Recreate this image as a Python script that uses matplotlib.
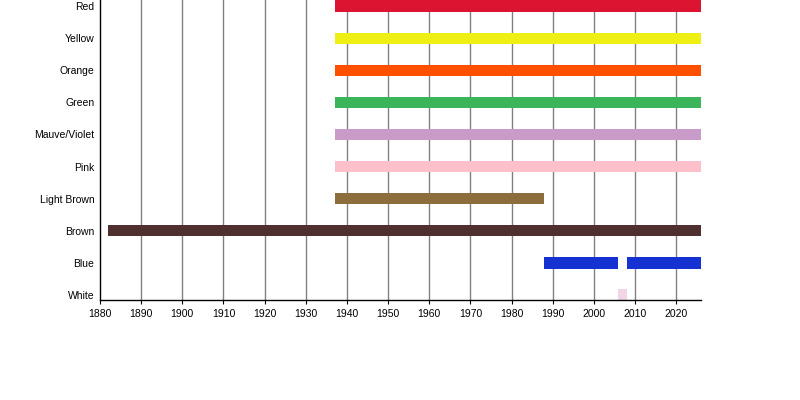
import matplotlib.pyplot as plt

lines = ["White", "Blue", "Brown", "Light Brown", "Pink", "Mauve/Violet",
         "Green", "Orange", "Yellow", "Red"]
colors = ["#f2d6e8", "#1432d2", "#50302e", "#8c6e3c", "#ffc0cb", "#c89bc8",
          "#3cb45a", "#ff5000", "#eef014", "#dc1432"]
# (start year, end year) segments for each line
spans = [
    [(2006, 2008)],
    [(1988, 2006), (2008, 2026)],
    [(1882, 2026)],
    [(1937, 1988)],
    [(1937, 2026)],
    [(1937, 2026)],
    [(1937, 2026)],
    [(1937, 2026)],
    [(1937, 2026)],
    [(1937, 2026)],
]
decades = list(range(1880, 2030, 10))

plt.rcParams['font.family'] = ['Liberation Sans', 'DejaVu Sans']
fig = plt.figure(figsize=(8, 4), dpi=100)
ax = fig.add_axes([0.125, 0.25, 0.751, 0.75])

for x in decades[1:]:
    ax.axvline(x, color="#808080", lw=1, zorder=0)

for i, segs in enumerate(spans):
    ax.broken_barh([(a, b - a) for a, b in segs], (i - 0.175, 0.35),
                   facecolors=colors[i], zorder=2)

ax.set_xlim(1880, 2026)
ax.set_ylim(-0.156, 9.19)
ax.set_xticks(decades)
ax.set_xticklabels([str(d) for d in decades], fontsize=7.5)
ax.set_yticks(range(len(lines)))
ax.set_yticklabels(lines, fontsize=7.5)
ax.tick_params(axis='y', length=0, pad=4)
ax.tick_params(axis='x', length=3, width=0.8, pad=3.5)
for s in ["top", "right"]:
    ax.spines[s].set_visible(False)
ax.spines["left"].set_linewidth(1)
ax.spines["bottom"].set_linewidth(1)

fig.savefig("out.png", dpi=100)
